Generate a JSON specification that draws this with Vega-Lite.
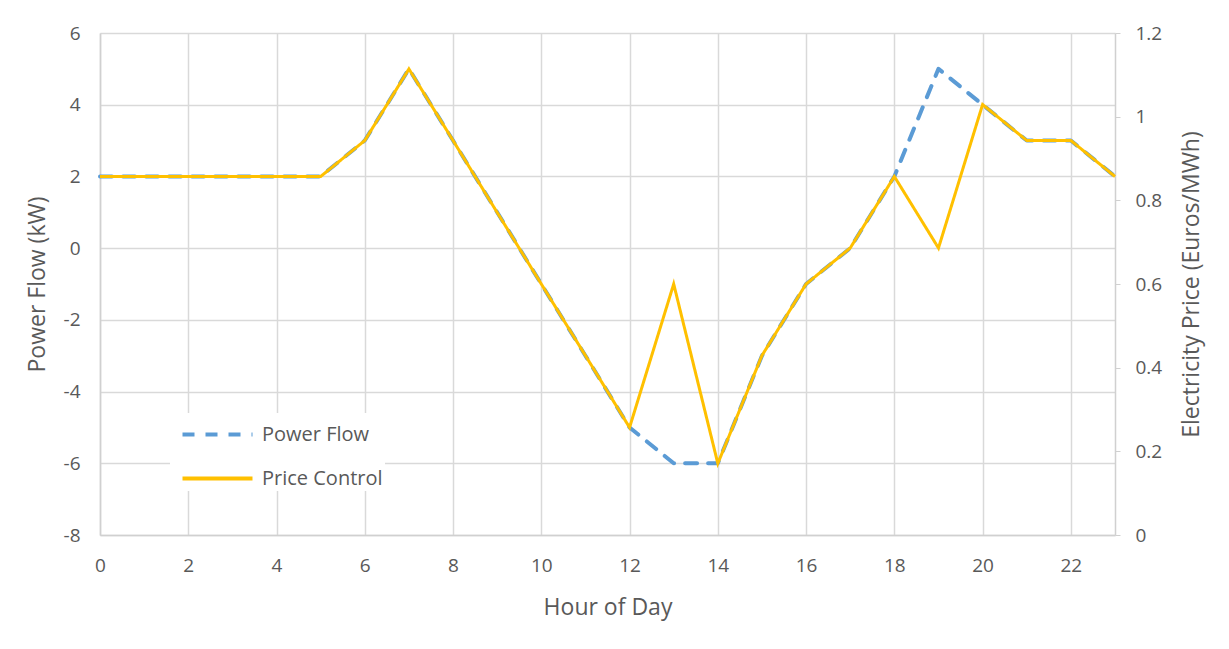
{
  "$schema": "https://vega.github.io/schema/vega-lite/v6.json",
  "width": 1015,
  "height": 502,
  "autosize": "none",
  "padding": {"left": 100, "top": 33, "right": 114, "bottom": 114},
  "background": "white",
  "config": {
    "view": {"stroke": null},
    "font": "Open Sans",
    "axis": {
      "labelColor": "#595959",
      "titleColor": "#595959",
      "labelFont": "Open Sans",
      "titleFont": "Open Sans",
      "labelFontSize": 19,
      "titleFontSize": 23,
      "titleFontWeight": "normal",
      "gridColor": "#d9d9d9",
      "gridWidth": 1.5,
      "domainColor": "#d0d0d0",
      "domainWidth": 1.5,
      "tickColor": "#d0d0d0",
      "labelFlush": false
    },
    "legend": {
      "labelFont": "Open Sans",
      "labelFontSize": 20,
      "labelColor": "#595959"
    }
  },
  "layer": [
    {
      "data": {
        "values": [
          {"hour": 0, "value": 2, "series": "Power Flow"},
          {"hour": 1, "value": 2, "series": "Power Flow"},
          {"hour": 2, "value": 2, "series": "Power Flow"},
          {"hour": 3, "value": 2, "series": "Power Flow"},
          {"hour": 4, "value": 2, "series": "Power Flow"},
          {"hour": 5, "value": 2, "series": "Power Flow"},
          {"hour": 6, "value": 3, "series": "Power Flow"},
          {"hour": 7, "value": 5, "series": "Power Flow"},
          {"hour": 8, "value": 3, "series": "Power Flow"},
          {"hour": 9, "value": 1, "series": "Power Flow"},
          {"hour": 10, "value": -1, "series": "Power Flow"},
          {"hour": 11, "value": -3, "series": "Power Flow"},
          {"hour": 12, "value": -5, "series": "Power Flow"},
          {"hour": 13, "value": -6, "series": "Power Flow"},
          {"hour": 14, "value": -6, "series": "Power Flow"},
          {"hour": 15, "value": -3, "series": "Power Flow"},
          {"hour": 16, "value": -1, "series": "Power Flow"},
          {"hour": 17, "value": 0, "series": "Power Flow"},
          {"hour": 18, "value": 2, "series": "Power Flow"},
          {"hour": 19, "value": 5, "series": "Power Flow"},
          {"hour": 20, "value": 4, "series": "Power Flow"},
          {"hour": 21, "value": 3, "series": "Power Flow"},
          {"hour": 22, "value": 3, "series": "Power Flow"},
          {"hour": 23, "value": 2, "series": "Power Flow"}
        ]
      },
      "mark": {"type": "line", "strokeWidth": 4, "strokeCap": "round", "strokeJoin": "round"},
      "encoding": {
        "x": {
          "field": "hour", "type": "quantitative",
          "scale": {"domain": [0, 23], "nice": false},
          "axis": {
            "title": "Hour of Day",
            "values": [0, 2, 4, 6, 8, 10, 12, 14, 16, 18, 20, 22],
            "ticks": false,
            "labelPadding": 21,
            "titlePadding": 21,
            "grid": true,
            "domain": true
          }
        },
        "y": {
          "field": "value", "type": "quantitative",
          "scale": {"domain": [-8, 6], "nice": false},
          "axis": {
            "title": "Power Flow (kW)",
            "values": [-8, -6, -4, -2, 0, 2, 4, 6],
            "labelExpr": "datum.value",
            "ticks": false,
            "labelPadding": 20,
            "titlePadding": 14,
            "grid": true,
            "domain": true
          }
        },
        "color": {
          "field": "series", "type": "nominal",
          "scale": {"domain": ["Power Flow", "Price Control"], "range": ["#5B9BD5", "#FFC000"]},
          "legend": {
            "title": null,
            "orient": "none",
            "legendX": 70,
            "legendY": 380,
            "fillColor": "white",
            "padding": 2,
            "symbolType": "M-2,0H2",
            "symbolSize": 1225,
            "symbolStrokeWidth": 4,
            "symbolOffset": 26,
            "rowPadding": 14,
            "labelOffset": 25
          }
        },
        "strokeDash": {
          "field": "series", "type": "nominal",
          "scale": {"domain": ["Power Flow", "Price Control"], "range": [[12, 11], [1, 0]]},
          "legend": {
            "title": null,
            "orient": "none",
            "legendX": 70,
            "legendY": 380,
            "fillColor": "white",
            "padding": 2,
            "symbolType": "M-2,0H2",
            "symbolSize": 1225,
            "symbolStrokeWidth": 4,
            "symbolOffset": 26,
            "rowPadding": 14,
            "labelOffset": 25
          }
        }
      }
    },
    {
      "data": {
        "values": [
          {"hour": 0, "value": 0.857, "series": "Price Control"},
          {"hour": 1, "value": 0.857, "series": "Price Control"},
          {"hour": 2, "value": 0.857, "series": "Price Control"},
          {"hour": 3, "value": 0.857, "series": "Price Control"},
          {"hour": 4, "value": 0.857, "series": "Price Control"},
          {"hour": 5, "value": 0.857, "series": "Price Control"},
          {"hour": 6, "value": 0.943, "series": "Price Control"},
          {"hour": 7, "value": 1.114, "series": "Price Control"},
          {"hour": 8, "value": 0.943, "series": "Price Control"},
          {"hour": 9, "value": 0.771, "series": "Price Control"},
          {"hour": 10, "value": 0.6, "series": "Price Control"},
          {"hour": 11, "value": 0.429, "series": "Price Control"},
          {"hour": 12, "value": 0.257, "series": "Price Control"},
          {"hour": 13, "value": 0.6, "series": "Price Control"},
          {"hour": 14, "value": 0.171, "series": "Price Control"},
          {"hour": 15, "value": 0.429, "series": "Price Control"},
          {"hour": 16, "value": 0.6, "series": "Price Control"},
          {"hour": 17, "value": 0.686, "series": "Price Control"},
          {"hour": 18, "value": 0.857, "series": "Price Control"},
          {"hour": 19, "value": 0.686, "series": "Price Control"},
          {"hour": 20, "value": 1.029, "series": "Price Control"},
          {"hour": 21, "value": 0.943, "series": "Price Control"},
          {"hour": 22, "value": 0.943, "series": "Price Control"},
          {"hour": 23, "value": 0.857, "series": "Price Control"}
        ]
      },
      "mark": {"type": "line", "strokeWidth": 3, "strokeJoin": "miter"},
      "encoding": {
        "x": {"field": "hour", "type": "quantitative"},
        "y": {
          "field": "value", "type": "quantitative",
          "scale": {"domain": [0, 1.2], "nice": false},
          "axis": {
            "orient": "right",
            "title": "Electricity Price (Euros/MWh)",
            "titleAngle": 270,
            "titleBaseline": "top",
            "values": [0, 0.2, 0.4, 0.6, 0.8, 1, 1.2],
            "labelExpr": "datum.value",
            "ticks": true,
            "tickSize": 5,
            "labelPadding": 15,
            "titlePadding": 19,
            "grid": false,
            "domain": true
          }
        },
        "color": {"field": "series", "type": "nominal"},
        "strokeDash": {"field": "series", "type": "nominal"}
      }
    }
  ],
  "resolve": {"scale": {"y": "independent"}}
}
